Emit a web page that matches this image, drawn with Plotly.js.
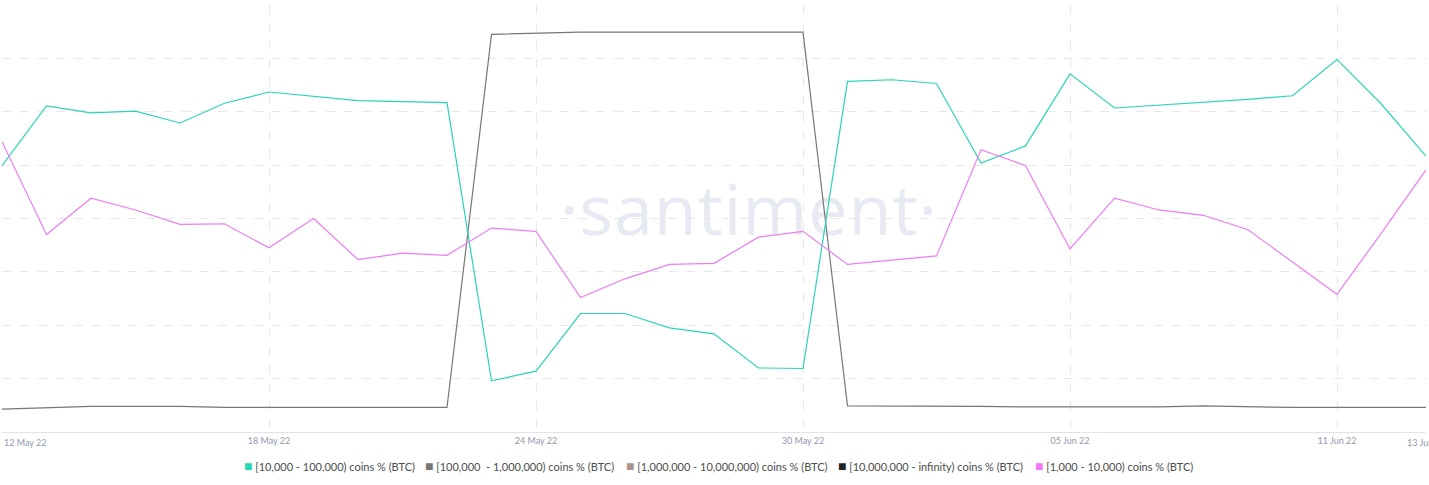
<!DOCTYPE html>
<html>
<head>
<meta charset="utf-8">
<script src="https://cdn.plot.ly/plotly-3.0.1.min.js"></script>
<style>
  html, body { margin: 0; padding: 0; background: #ffffff; }
  #wrap { position: relative; width: 1429px; height: 485px; }
  #wm { position: absolute; left: 0; top: 0; width: 1429px; height: 485px; z-index: 0;
        pointer-events: none; }
  #wm span { position: absolute; left: 749px; top: 208px; transform: translate(-50%, -50%);
        font-family: "Open Sans", sans-serif; font-size: 70px; color: #e8eaf3; white-space: nowrap;
        letter-spacing: 1px; }
  #chart { position: absolute; left: 0; top: 0; width: 1429px; height: 485px; z-index: 1; }
</style>
</head>
<body>
<div id="wrap">
  <div id="wm"><span>·santiment·</span></div>
  <div id="chart"></div>
</div>
<script>
// Dates (daily)
const dates = [
  "2022-05-12","2022-05-13","2022-05-14","2022-05-15","2022-05-16","2022-05-17","2022-05-18",
  "2022-05-19","2022-05-20","2022-05-21","2022-05-22","2022-05-23","2022-05-24","2022-05-25",
  "2022-05-26","2022-05-27","2022-05-28","2022-05-29","2022-05-30","2022-05-31","2022-06-01",
  "2022-06-02","2022-06-03","2022-06-04","2022-06-05","2022-06-06","2022-06-07","2022-06-08",
  "2022-06-09","2022-06-10","2022-06-11","2022-06-12","2022-06-13"
];

// Series values (in chart units)
const coins10kTo100k = [
  4.99, 6.11, 5.98, 6.01, 5.79, 6.16, 6.37, 6.29, 6.21, 6.19, 6.17,
  0.96, 1.14, 2.22, 2.22, 1.95, 1.84, 1.20, 1.19,
  6.57, 6.60, 6.53, 5.04, 5.36, 6.71, 6.07, 6.12, 6.18, 6.23, 6.30, 6.98, 6.14, 5.17
];
const coins100kTo1M = [
  0.43, 0.46, 0.48, 0.48, 0.48, 0.46, 0.46, 0.46, 0.46, 0.46, 0.46,
  7.45, 7.47, 7.49, 7.49, 7.49, 7.49, 7.49, 7.49,
  0.49, 0.49, 0.49, 0.48, 0.47, 0.47, 0.47, 0.47, 0.49, 0.47, 0.46, 0.46, 0.46, 0.46
];
const coins1MTo10M = [];
const coins10MToInf = [];
const coins1kTo10k = [
  5.44, 3.70, 4.38, 4.16, 3.89, 3.90, 3.45, 4.00, 3.23, 3.35, 3.31,
  3.82, 3.76, 2.52, 2.87, 3.14, 3.16, 3.65, 3.76,
  3.14, 3.22, 3.30, 5.29, 4.99, 3.43, 4.38, 4.16, 4.06, 3.79, 3.19, 2.58, 3.73, 4.91
];

// Axis ticks
const tickDates = ["2022-05-12","2022-05-18","2022-05-24","2022-05-30","2022-06-05","2022-06-11","2022-06-13"];
const tickLabels = ["12 May 22", "18 May 22", "24 May 22", "30 May 22", "05 Jun 22", "11 Jun 22", "13 Jun 22"];

const seriesNames = [
  "[10,000 - 100,000) coins % (BTC)",
  "[100,000  - 1,000,000) coins % (BTC)",
  "[1,000,000 - 10,000,000) coins % (BTC)",
  "[10,000,000 - infinity) coins % (BTC)",
  "[1,000 - 10,000) coins % (BTC)"
];
const seriesColors = ["#2ad6b4", "#777777", "#ab948d", "#222222", "#f07cf5"];
const seriesData = [coins10kTo100k, coins100kTo1M, coins1MTo10M, coins10MToInf, coins1kTo10k];

const traces = [];
// draw order: grey, teal, others, pink on top
[1, 0, 2, 3, 4].forEach(i => {
  traces.push({
    type: "scatter", mode: "lines", name: seriesNames[i],
    x: seriesData[i].length ? dates : [], y: seriesData[i],
    line: { color: seriesColors[i], width: 1.2 },
    showlegend: false, hoverinfo: "skip"
  });
});

const tickFont = { family: "Lato, sans-serif", size: 9, color: "#9398b0" };
const annotations = [];
// edge tick labels (first is left-aligned, last centred on its tick)
tickDates.forEach((d, i) => {
  if (i === 0 || i === tickDates.length - 1) {
    annotations.push({
      xref: "x", yref: "paper", x: d, y: 0, yshift: -3,
      xanchor: i === 0 ? "left" : "center", yanchor: "top", showarrow: false,
      text: tickLabels[i], font: tickFont
    });
  }
});
// legend row (square swatch + name), centred under the plot
const legendX = [0.1685, 0.2957, 0.4366, 0.5858, 0.7238];
seriesNames.forEach((n, i) => {
  annotations.push({
    xref: "paper", yref: "paper", x: legendX[i], y: -0.0796,
    xanchor: "left", yanchor: "middle", showarrow: false,
    text: '<span style="color:' + seriesColors[i] + ';font-size:14px">■</span> ' + n,
    font: { family: "Lato, sans-serif", size: 11, color: "#4d4d4d" }
  });
});

const layout = {
  width: 1429, height: 485,
  margin: { l: 2, r: 3, t: 5, b: 53, autoexpand: false },
  paper_bgcolor: "rgba(0,0,0,0)",
  plot_bgcolor: "rgba(0,0,0,0)",
  showlegend: false,
  xaxis: {
    type: "date",
    range: ["2022-05-12", "2022-06-13"],
    tickmode: "array", tickvals: tickDates,
    ticktext: tickLabels.map((t, i) => (i === 0 || i === tickLabels.length - 1) ? "" : t),
    showgrid: true, gridcolor: "#e6e7f0", griddash: "dash", gridwidth: 1,
    showline: true, linecolor: "#e1e3ee", linewidth: 1,
    ticks: "", zeroline: false, ticklabelstandoff: 0,
    tickfont: tickFont, fixedrange: true, automargin: false
  },
  yaxis: {
    range: [0, 8], tickmode: "linear", tick0: 0, dtick: 1,
    showticklabels: false, ticks: "",
    showgrid: true, gridcolor: "#e6e7f0", griddash: "dash", gridwidth: 1,
    zeroline: false, showline: false, fixedrange: true, automargin: false
  },
  annotations: annotations
};

Plotly.newPlot("chart", traces, layout, { displayModeBar: false, staticPlot: true });
</script>
</body>
</html>
